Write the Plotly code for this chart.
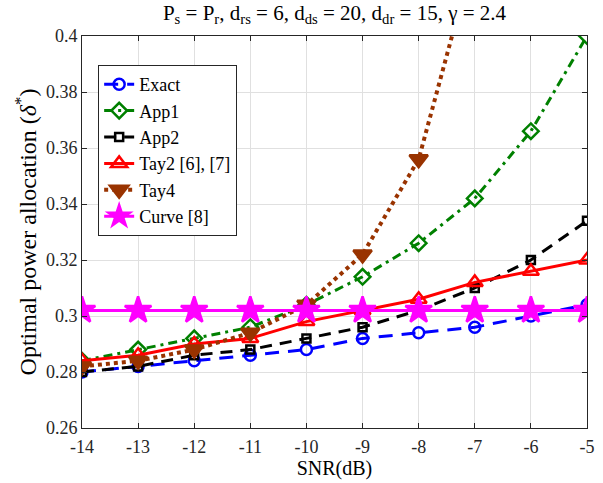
import plotly.graph_objects as go

snr = [-14, -13, -12, -11, -10, -9, -8, -7, -6, -5]
exact = [0.280, 0.282, 0.284, 0.286, 0.288, 0.292, 0.294, 0.296, 0.300, 0.304]
app1 = [0.284, 0.288, 0.292, 0.296, 0.304, 0.314, 0.326, 0.342, 0.366, 0.400]
app2 = [0.280, 0.282, 0.286, 0.288, 0.292, 0.296, 0.302, 0.310, 0.320, 0.334]
tay2 = [0.284, 0.286, 0.290, 0.292, 0.298, 0.302, 0.306, 0.312, 0.316, 0.320]
tay4 = [0.282, 0.284, 0.288, 0.294, 0.304, 0.322, 0.356, 0.430, 0.530, 0.680]
curve = [0.302] * 10

y_ticks = [0.26, 0.28, 0.30, 0.32, 0.34, 0.36, 0.38, 0.40]
y_labels = ["0.26", "0.28", "0.3", "0.32", "0.34", "0.36", "0.38", "0.4"]

FONT = "Liberation Serif"

title_text = ("P<sub>s</sub> = P<sub>r</sub>, d<sub>rs</sub> = 6, d<sub>ds</sub> = 20, "
              "d<sub>dr</sub> = 15, γ = 2.4")

fig = go.Figure()
series = [
    ("Exact", exact, "#0000ff", "14px,9px", 3, "circle-open", 11),
    ("App1", app1, "#008000", "9px,5px,3px,5px", 3, "diamond-open", 12),
    ("App2", app2, "#000000", "12px,8px", 3, "square-open", 8),
    ("Tay2 [6], [7]", tay2, "#ff0000", "solid", 3, "triangle-up-open", 14),
    ("Tay4", tay4, "#993300", "4px,4px", 4, "triangle-down", 16),
    ("Curve [8]", curve, "#ff00ff", "solid", 3, "star", 20),
]
for name, ys, col, dash, lw, sym, size in series:
    fig.add_trace(go.Scatter(
        x=snr, y=ys, name=name, mode="lines+markers",
        line=dict(color=col, width=lw, dash=dash),
        marker=dict(symbol=sym, size=size, color=col,
                    line=dict(color=col, width=2.5)),
        cliponaxis=True,
    ))

fig.update_layout(
    width=603, height=483,
    margin=dict(l=82, r=16, t=36, b=55, autoexpand=False),
    paper_bgcolor="white", plot_bgcolor="white",
    font=dict(family=FONT, size=18, color="#262626"),
    title=dict(
        text=title_text,
        x=0.5, xanchor="center", xref="paper", y=0.99, yanchor="top",
        font=dict(family=FONT, size=21, color="#000000"),
    ),
    showlegend=True,
    legend=dict(
        x=0.032, y=0.926, xanchor="left", yanchor="top",
        bgcolor="white", bordercolor="#262626", borderwidth=1,
        font=dict(family=FONT, size=18, color="#000000"),
        tracegroupgap=0, itemwidth=30,
    ),
)
fig.update_xaxes(
    range=[-14, -5], tickvals=snr, ticktext=[str(v) for v in snr],
    showgrid=True, gridcolor="#e0e0e0", gridwidth=1,
    ticks="inside", ticklen=5, tickcolor="#262626",
    showline=True, linecolor="#262626", linewidth=1, mirror="ticks",
    zeroline=False, ticklabelstandoff=2, automargin=False,
    title=dict(text="SNR(dB)", font=dict(family=FONT, size=20, color="#000000"), standoff=4),
)
fig.update_yaxes(
    range=[0.26, 0.40], tickvals=y_ticks, ticktext=y_labels,
    showgrid=True, gridcolor="#e0e0e0", gridwidth=1,
    ticks="inside", ticklen=5, tickcolor="#262626",
    showline=True, linecolor="#262626", linewidth=1, mirror="ticks",
    zeroline=False, automargin=False,
    title=dict(text="Optimal power allocation (<i>δ</i><sup>*</sup>)",
               font=dict(family=FONT, size=24, color="#000000"), standoff=2),
)
fig.write_html("out.html")
